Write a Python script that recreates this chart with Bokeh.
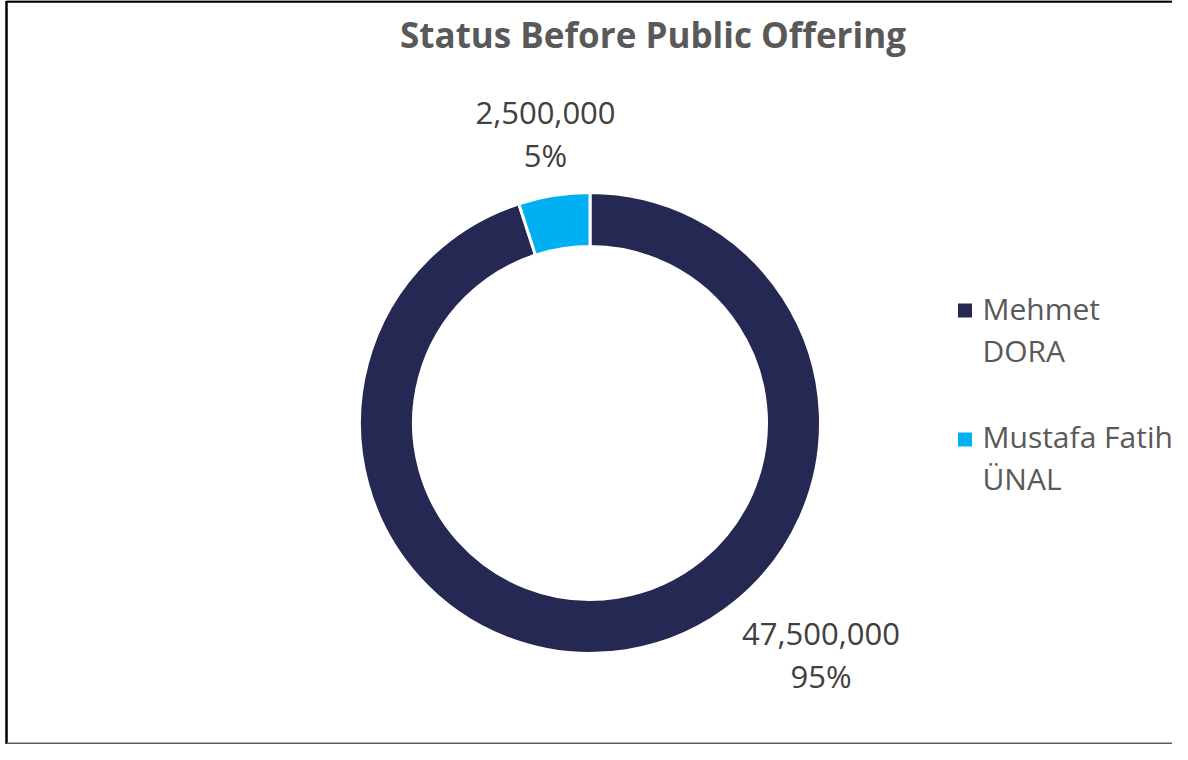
import math
from bokeh.plotting import figure
from bokeh.models import Range1d, ColumnDataSource
from bokeh.core.properties import value
from bokeh.embed import file_html
from bokeh.resources import INLINE

# ---- data ----
holders = ["Mehmet DORA", "Mustafa Fatih ÜNAL"]
legend_lines = [["Mehmet", "DORA"], ["Mustafa Fatih", "ÜNAL"]]
shares = [47500000, 2500000]
colors = ["#262854", "#00B0F0"]
title_text = "Status Before Public Offering"

# ---- layout (screen pixels, y measured from top) ----
W, H = 1172, 744
TXT = -12  # vertical correction for text glyph baseline

def fx(sx):
    return sx

def fy(sy):
    return H - sy

cx, cy = fx(589.5), fy(422.5)
r_out, r_in = 230.5, 176.5

p = figure(width=W, height=H, output_backend="svg", toolbar_location=None,
           x_range=Range1d(0, W), y_range=Range1d(0, H),
           min_border=0, tools="")
p.axis.visible = False
p.xgrid.visible = False
p.ygrid.visible = False
p.outline_line_color = None
p.background_fill_color = "white"
p.border_fill_color = "white"

# frame border (left/top black, bottom grey; right edge falls off the page)
p.segment(x0=[fx(6), fx(6)], y0=[fy(0.5), fy(1)], x1=[fx(6), fx(1200)], y1=[fy(760), fy(1)],
          line_color="black", line_width=2.5)
p.segment(x0=[fx(6)], y0=[1], x1=[fx(1200)], y1=[1], line_color="#595959", line_width=2)

total = sum(shares)
fracs = [s / total for s in shares]
starts, ends = [], []
acc = 0.0
for f in fracs:
    starts.append(math.pi / 2 - acc * 2 * math.pi)
    acc += f
    ends.append(math.pi / 2 - acc * 2 * math.pi)

src = ColumnDataSource(dict(x=[cx] * len(shares), y=[cy] * len(shares),
                            start=starts, end=ends, color=colors))
p.annular_wedge(x="x", y="y", inner_radius=r_in, outer_radius=r_out,
                start_angle="start", end_angle="end", direction="clock",
                fill_color="color", line_color="white", line_width=3,
                source=src)

FONT = value("Open Sans")

# title
p.text(x=[fx(652.5)], y=[fy(46 + TXT)], text=[title_text], text_font=FONT,
       text_font_style="bold", text_font_size="35px", text_color="#595959",
       text_align="center", text_baseline="alphabetic")

# data labels
label_pos = [(820.5, 645), (545, 124)]
for (lx, ly), s, f in zip(label_pos, shares, fracs):
    p.text(x=[fx(lx)], y=[fy(ly + TXT)], text=[f"{s:,}"], text_font=FONT,
           text_font_size="31px", text_color="#404040",
           text_align="center", text_baseline="alphabetic")
    p.text(x=[fx(lx)], y=[fy(ly + 42 + TXT)], text=[f"{round(f*100)}%"], text_font=FONT,
           text_font_size="31px", text_color="#404040",
           text_align="center", text_baseline="alphabetic")

# legend
leg_sq_y = [310, 439]
leg_base = [320, 448]
for i, (lines, c) in enumerate(zip(legend_lines, colors)):
    p.rect(x=[fx(964.5)], y=[fy(leg_sq_y[i])], width=14, height=14,
           fill_color=c, line_color=None)
    for j, t in enumerate(lines):
        p.text(x=[fx(982)], y=[fy(leg_base[i] + 42 * j + TXT)], text=[t], text_font=FONT,
               text_font_size="30px", text_color="#595959",
               text_align="left", text_baseline="alphabetic")

open("out.html", "w").write(file_html(p, INLINE))
